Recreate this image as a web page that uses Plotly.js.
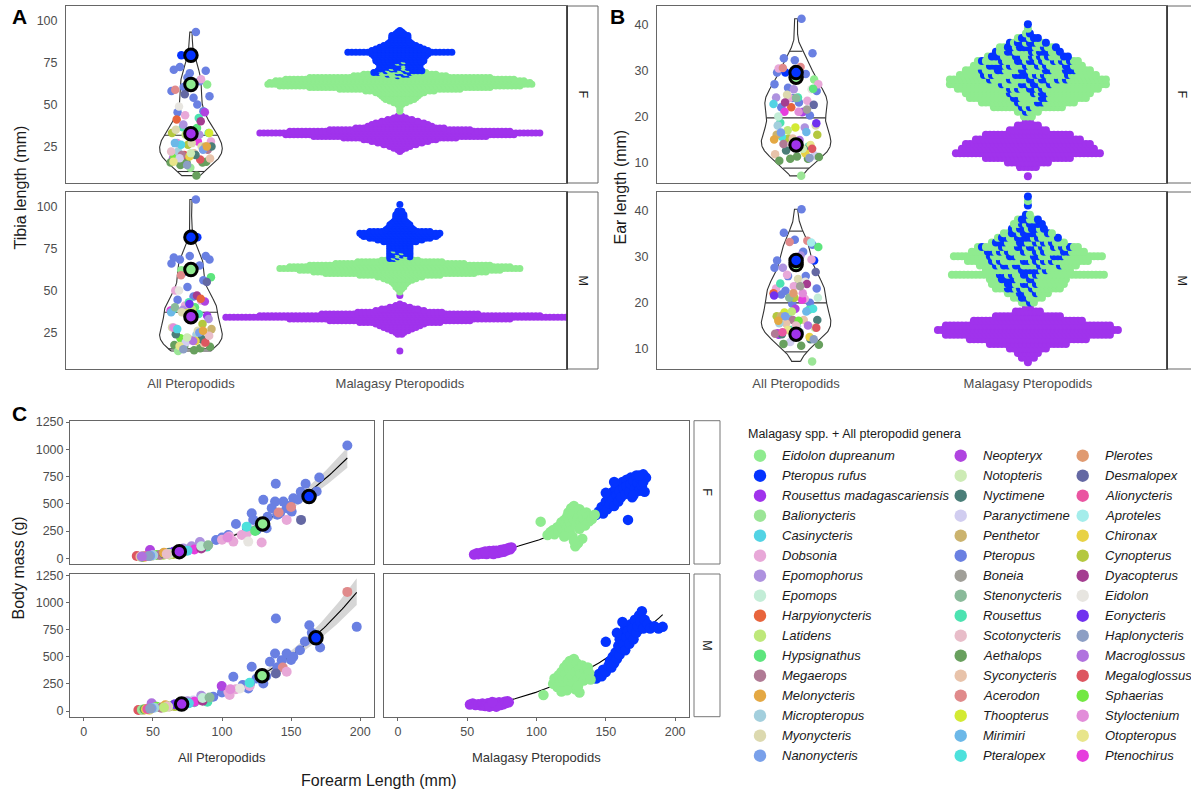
<!DOCTYPE html>
<html><head><meta charset="utf-8">
<script src="https://cdn.plot.ly/plotly-3.0.1.min.js"></script>
<style>html,body{margin:0;padding:0;background:#fff}#plot{width:1191px;height:792px}</style>
</head><body><div id="plot"></div>
<script>
// ================= DATA =================
const genera = ["Eidolon dupreanum","Pteropus rufus","Rousettus madagascariensis","Balionycteris","Casinycteris","Dobsonia","Epomophorus","Epomops","Harpyionycteris","Latidens","Hypsignathus","Megaerops","Melonycteris","Micropteropus","Myonycteris","Nanonycteris",
"Neopteryx","Notopteris","Nyctimene","Paranyctimene","Penthetor","Pteropus","Boneia","Stenonycteris","Rousettus","Scotonycteris","Aethalops","Syconycteris","Acerodon","Thoopterus","Mirimiri","Pteralopex",
"Plerotes","Desmalopex","Alionycteris","Aproteles","Chironax","Cynopterus","Dyacopterus","Eidolon","Eonycteris","Haplonycteris","Macroglossus","Megaloglossus","Sphaerias","Styloctenium","Otopteropus","Ptenochirus"];
const generaColors = ["#8FEB8F","#0433FF","#A033EC","#9BE596","#52D3E4","#E8A8D8","#AE92DF","#C3EDD7","#E8643C","#BEE87A","#5DE57D","#B07A95","#E4A843","#A3CFDD","#DCD9AF","#79A0EA",
"#B044E0","#CDEBB5","#4A7E78","#D1CDF0","#CBB36E","#6A80E2","#A09F98","#8ABA9A","#4CE3B1","#E8BDC9","#68A05E","#E8C3AA","#E08A8B","#D3EA33","#6CB8E8","#4DE1DC",
"#E09A70","#6468A3","#EA55A1","#A4EDEB","#E8D245","#B4C83F","#A43D90","#E7E5E0","#7031EF","#8C9EC4","#B072DE","#DD5660","#72E842","#E28DD9","#E8E58A","#E63DDD"];
const categories = ["All Pteropodids","Malagasy Pteropodids"];

// --- A: tibia, all pteropodids (genus index, value) ---
const tibiaF_genus = [21,21,21,21,21,21,21,21,21,21,21,21,21,21, 1,0,2,28, 5,5,5,5, 39,16, 42,42, 24,24,24, 7,8, 26,26,26,26,26,26, 3,44, 43,43, 27,27, 13, 37,37,37, 47, 11,11, 14,14,14, 9, 18,18, 19,20,36,46, 6,6, 29,40,45,15,41,25,10,4,12,17,30,38,33];
const tibiaF_value = [93,72.3,70,68.6,70.6,63.8,60.3,54.8,54,45.4,46,66,58,50, 79.2,61.9,32,58.7, 64.9,43.5,28,35, 48.8,45.4, 33,18, 42,36.5,33, 34,41, 15.5,15.5,15.5,7.7,14,16, 12.4,19, 17.3,20, 17.9,21, 22, 24,26,33, 28, 20,23, 27,35,25, 32, 25,20, 18,25,19,16, 32,38, 33,34,27,23,14,22,36,26,25,21,27,40,56];
const tibiaM_genus = [21,21,21,21,21,21,21,21,21,21,21,21,21, 1,0,2, 5,5,5,5, 10,10, 39,16, 24,24,24, 6,6, 37,37,37, 29,47,13,44, 11,11, 26,26,26,26,26, 3, 27,27, 14,14,14,14, 9, 18,18, 19,20,36,46,43,40,45,15,41,25,42,4,12,17,30,38,28,33,7,23,8];
const tibiaM_value = [104,68.4,70.4,70.4,69.5,64.8,60.8,68.4,46.4,44.4,56,52,66, 81.6,62,35, 64,50,44,41, 57.9,40, 50,43.4, 43,38.5,36, 38.5,33, 37,27,30, 36.5,38,23.6,21.6, 22.5,20.6, 17.6,15.6,17,16.5,14.5, 14, 18.6,21.6, 28,26,37,24, 39, 24,21, 19,27,20,17,19,42,28,25,15,23,20,27,26,22,37,47,59,55,35,40,45];
// --- A: tibia, Malagasy beeswarm (value rows, counts) ---
const rufusTibiaF_val = [67,68,69,70,71,72,73,74,75,76,77,78,79,80,81,82,83,84,85,86,87,88,89,90,91,92,93,94];
const rufusTibiaF_cnt = [1,3,5,7,8,9,10,10,11,12,13,13,14,15,27,15,13,11,9,7,6,5,5,5,5,3,2,1];
const dupTibiaF_val = [46,47,48,49,50,51,52,53,54,55,56,57,58,59,60,61,62,63,64,65,66,67,68,69,70,71,72,73,74,75,76];
const dupTibiaF_cnt = [1,1,1,1,2,4,6,8,9,10,11,13,18,31,46,61,67,66,63,58,46,23,16,9,5,3,2,1,1,1,1];
const madTibiaF_val = [22,23,24,25,26,27,28,29,30,31,32,33,34,35,36,37,38,39,40,41,42,43,44];
const madTibiaF_cnt = [1,2,4,6,9,12,15,19,29,44,58,71,56,36,23,17,15,13,10,7,4,2,1];
const rufusTibiaM_val = [69,70,71,72,73,74,75,76,77,78,79,80,81,82,83,84,85,86,87,88,89,90,91,92,93,94,95,96,97,101];
const rufusTibiaM_cnt = [2,3,4,5,5,5,6,6,6,6,9,12,16,19,20,21,16,8,7,6,6,5,4,3,3,3,3,2,2,1];
const dupTibiaM_val = [49,50,51,52,53,54,55,56,57,58,59,60,61,62,63,64,65,66,67,68,69,70,71,72,73,74];
const dupTibiaM_cnt = [1,1,2,3,3,4,5,7,9,12,21,38,44,51,61,56,46,33,22,10,4,3,2,1,1,1];
const madTibiaM_val = [14,24,25,26,27,28,29,30,31,32,33,34,35,36,37,38,39,40,41,42,47];
const madTibiaM_cnt = [1,2,3,5,7,9,11,13,21,36,56,88,71,40,22,13,10,6,3,1,1];

// --- B: ear, all pteropodids ---
const earF_genus = [21,21,21,21,21,21,21,21,21,21,21,21,21,21, 1,0,2, 5,5,5,5, 28,28, 39, 6,6,6, 14,14, 24,24,24, 8,4,16,47,10,29,13,30, 37,37, 42,31,46, 27,27, 18,18, 19, 26,26,26,26,26, 3,11,43,44,20,36,9,40,45,15,41,25,12,17,38,33,23,7,22];
const earF_value = [41.2,32.6,33.7,32.2,29.5,29.2,26.2,25.5,23,22,20.2,24,27,21, 29.5,28,13.5, 30.4,23.4,24,27, 30.7,30.5, 25.9, 25.9,24.1,17.6, 24.7,18, 24.1,18.6,13.5, 22,22.7,20.9,21,26,17.6,18,16.6, 15.2,16, 14.9,15.6,13.8, 15.2,11.8, 12.9,12.6, 11.5, 11.3,10.4,10.8,10.8,11.2, 7.1,14,13,14.5,16,12,17,18.5,21,16.5,11,14,15,13,23,22.5,24,20,21.5];
const earM_genus = [21,21,21,21,21,21,21,21,21,21,21,21,21,21,21, 1,0,2, 28,28, 10, 6,6, 5,5,5,5,5, 33,14, 24,24,24, 8,47,29,31, 16,16, 30,30, 18,18,18,18, 11,11, 27,27, 17, 13,13, 42,19, 26,26,26, 3, 37,37, 39,46,43,44,20,36,9,40,45,15,41,25,12,38,23,7,22,34,35,32];
const earM_value = [40.2,35.1,32.5,33.6,29.1,25.7,25.7,23.0,24.1,21.7,19.9,19.7,27.5,31,22.5, 29.1,28,13, 33.4,33.1, 32.0, 30.2,27.5, 29.3,23.5,23.0,20.8,26, 26.6,25.1, 24.1,18.4,14.0, 22.0,20.6,17.8,18.6, 18.6,13.3, 18.0,16.7, 16.2,13.5,13.1,12, 16.2,13.2, 16.2,15.4, 14.5, 14.8,15.5, 15,11.4, 10.8,10.6,11, 7.2, 21,17, 24.5,14,14.5,16,17,12.5,18,21.5,22,17,12,15,16,24,21,21,23.5,13.5,33,22];
// --- B: ear, Malagasy beeswarm ---
const rufusEarF_val = [21,22,23,24,25,26,27,28,29,30,31,32,33,34,35,36,37,38,40];
const rufusEarF_cnt = [1,2,3,4,4,5,6,8,9,10,10,10,10,8,8,6,4,1,1];
const dupEarF_val = [20,21,22,23,24,25,26,27,28,29,30,31,32,33,34,35,36,37,38,39];
const dupEarF_cnt = [3,5,16,21,26,28,31,34,32,26,22,18,16,11,9,7,4,2,1,1];
const madEarF_val = [7,9,10,11,12,13,14,15,16,17,18,19];
const madEarF_cnt = [1,5,11,22,37,34,32,27,22,10,6,2];
const rufusEarM_val = [20,21,22,23,24,25,26,27,28,29,30,31,32,33,34,35,36,37,38,39,41,43];
const rufusEarM_cnt = [1,2,3,4,5,6,6,6,7,7,8,9,10,8,8,7,6,5,3,1,1,1];
const dupEarM_val = [20,21,22,23,24,25,26,27,28,29,30,31,32,33,34,35,36,37,38,39,42];
const dupEarM_cnt = [3,6,8,13,14,14,33,16,18,24,30,20,16,11,8,6,3,3,3,1,1];
const madEarM_val = [7,8,9,10,11,12,13,14,15,16,17,18,19];
const madEarM_cnt = [1,4,6,10,20,30,42,46,42,28,17,7,2];

// --- Highlighted Malagasy species means, order: E. dupreanum, R. madagascariensis, P. rufus ---
const meanSpecies = [0, 2, 1];
const meanTibiaF = [61.9, 32.6, 79.2];
const meanTibiaM = [62.4, 34.4, 81.6];
const meanEarF = [28.5, 13.8, 29.5];
const meanEarM = [28.2, 13.1, 29.1];
const meanForearmF = [129.4, 69.1, 163];
const meanMassF = [315, 61, 566];
const meanForearmM = [129, 70.8, 168];
const meanMassM = [325, 64, 674];

// --- C: body mass vs forearm, all pteropodids ---
const massF_genus = [21,21,21,21,21,21,21,21,21,21,21,21,21,21,21,21,21,21,21,21,21,21,21,21,21,21,21,21,21, 1,0,2, 28,28, 33, 5,5,5,5,5,5,5, 31,39, 24,24,24, 8, 6,6,6, 10,16,43, 27,27, 46,44,9, 14,14, 37,37,37, 47,11,3,26,20,36, 18,18, 19,29,38,40,13,15,7,12,17,25,4,23,34,41,42,45,30];
const massF_forearm = [190.7,170.4,160.5,168.5,138.9,129.9,138.4,144.4,151.6,136,146.8,150.4,142,121.5,122.6,110.1,132.3,125.1,104.6,95.7,155,148,133,128,118,140,157,165,100, 163,129,69, 141,150, 157.2, 146.8,114.3,105.3,108.2,128.7,118,100, 117.9,119, 88.9,80,75, 84.1, 84,78,72, 124,47.9,38.3, 43.1,41, 49.1,52.8,57.5, 61.1,58, 65,70,62, 80,55,42,43,60,44, 58,62, 50,72,85,65,50,48,85,58,62,60,75,90,45,47,42,104,70];
const massF_mass = [1035,741,683,612,683,536,520,520,551,460,460,428,413,413,352,315,276,260,214,168,540,480,380,300,270,400,610,590,190, 560,310,60, 420,470, 352, 352,214,199,153,144,230,170, 290,153, 107,90,80, 122, 150,110,90, 250,76,21, 21,15, 21,30,30, 46,40, 40,55,35, 80,30,12,15,40,15, 45,50, 25,60,90,60,28,24,110,50,40,40,70,120,18,20,16,190,62];
const massM_genus = [21,21,21,21,21,21,21,21,21,21,21,21,21,21,21,21,21,21,21,21,21,21,21,21, 1,0,2, 28,28, 5,5,5,5,5, 33,39,16,42, 24,24,24, 8,19, 18,18, 44,43,27,46, 14,14, 10, 6,6, 37,37, 47,11,3,26,20,36,29,38,40,13,15,7,12,17,25,4,23,34,41,45,31,30,9];
const massM_forearm = [197.5,139,163.2,171,151.6,146.8,156.4,138.4,143.2,134.7,121.5,108.2,129.9,120.3,119,93.7,140,150,160,165,132,125,115,100, 168,129,71, 190.7,144, 146.8,104.6,105.5,110,120, 139,113,99.8,49.1, 89.4,80,76, 85.3,79.2, 64.8,60, 52.7,39.5,43,47.4, 60,56, 128, 85,75, 66,70, 80,56,42,44,62,45,73,86,66,51,49,86,59,61,60,76,91,46,48,106,120,72,58];
const massM_mass = [775,852,790,585,499,530,560,530,468,453,407,315,254,254,208,131,400,470,640,720,320,300,240,170, 670,325,64, 1097,400, 361,178,147,200,230, 345,208,230,71, 86,80,75, 117,96, 52,45, 40,10,10,10, 40,35, 330, 140,90, 45,58, 85,30,12,16,42,16,65,95,62,30,26,120,52,42,42,72,125,18,22,200,260,65,32];

// --- C: body mass vs forearm, Malagasy individuals ---
const rufusF_forearm = [143,145,147,148,150,151,152,153,154,155,156,157,158,159,160,160,161,162,163,164,165,165,166,167,168,168,169,170,171,172,173,174,175,176,177,178,156,150,170,179,177,174];
const rufusF_mass = [398,430,470,410,520,450,560,500,600,540,480,640,580,520,680,620,560,700,640,590,720,660,352,610,740,680,560,710,640,760,690,620,730,660,700,610,700,600,580,740,770,760];
const dupF_forearm = [103,108,110,112,113,115,116,117,118,119,120,121,122,122,123,124,125,125,126,127,127,128,129,130,130,128,131,132,133,134,135,136,137,138,140,142,124,120,131,126,133,127];
const dupF_mass = [336,214,240,260,220,285,250,300,330,270,350,310,380,290,420,340,460,300,390,350,480,420,310,370,140,110,450,330,400,360,300,420,380,340,360,400,250,200,270,200,180,160];
const madF_forearm = [55,57,58,60,61,62,63,64,65,66,67,67,68,69,70,70,71,72,73,74,74,75,76,77,78,79,80,81,82,66,72,63,69,76];
const madF_mass = [35,45,38,50,42,55,48,40,58,50,62,45,55,68,52,62,70,58,66,75,55,68,80,64,86,75,95,82,100,66,48,62,40,60];
const rufusM_forearm = [143,145,147,148,150,150,152,153,154,155,156,157,158,159,160,160,161,162,163,164,164,165,166,167,168,168,169,170,171,172,173,174,175,176,177,178,180,182,185,188,191,158,162];
const rufusM_mass = [300,340,320,380,360,637,420,460,400,500,440,540,480,600,520,660,580,700,620,560,760,680,740,620,800,700,760,660,840,720,780,880,820,919,760,840,800,760,780,760,775,720,820];
const dupM_forearm = [105,112,113,115,116,117,118,119,120,120,121,122,123,124,124,125,126,126,127,128,128,129,130,131,131,132,133,134,135,136,137,138,139,122,118,130];
const dupM_mass = [147,250,300,220,330,270,360,300,400,240,340,430,290,380,460,330,410,250,480,360,200,440,300,390,170,340,420,280,370,320,400,350,290,190,180,230];
const madM_forearm = [52,54,56,58,60,61,62,63,64,65,66,67,68,69,70,71,72,73,74,75,76,77,78,79,80,66,71,68];
const madM_mass = [60,70,55,62,50,68,58,45,64,72,52,60,68,48,75,58,66,80,55,70,62,85,74,90,80,40,40,82];

// ================= LAYOUT GEOMETRY (px) =================
const W = 1191, H = 792;
const FONT = 'Liberation Sans, Arial, Helvetica, sans-serif';
const A_X = [66, 567], B_X = [657, 1167];
const ROW_F = [6, 183], ROW_M = [192, 369];
const CL_X = [70, 374], CR_X = [384, 689];
const C_F = [420.7, 564], C_M = [574, 716.7];
const A_XRANGE = [0.402, 2.8], B_XRANGE = [0.4, 2.6];
const A_YRANGE = [3.3, 108.5], B_YRANGE = [5.55, 43.95];
const C_XRANGE = [-10, 210], C_YRANGE = [-52.5, 1262];

const unitsPerPx = (range, dpx) => (range[1] - range[0]) / (dpx[1] - dpx[0]);
const frac = t => t - Math.floor(t);
const jit = i => (frac((i + 1) * 0.6180339887498949) * 0.2 - 0.1);
const slotHash = (p, v) => frac(Math.sin((p + 1) * 12.9898 + v * 78.233) * 43758.5453);

// ================= HELPERS =================
function violin(vals, center, width) {
  const v = vals.slice().sort((a, b) => a - b), n = v.length;
  const mean = v.reduce((s, a) => s + a, 0) / n;
  const sd = Math.sqrt(v.reduce((s, a) => s + (a - mean) * (a - mean), 0) / (n - 1));
  const q = p => { const h = (n - 1) * p, lo = Math.floor(h), hi = Math.ceil(h); return v[lo] + (h - lo) * (v[hi] - v[lo]); };
  const bw = 0.9 * Math.min(sd, (q(0.75) - q(0.25)) / 1.34) * Math.pow(n, -0.2);
  const m = 300, ys = [], ds = [];
  for (let i = 0; i < m; i++) {
    const y = v[0] + (v[n - 1] - v[0]) * i / (m - 1);
    let d = 0; for (const a of v) { const z = (y - a) / bw; d += Math.exp(-0.5 * z * z); }
    ys.push(y); ds.push(d);
  }
  const dmax = Math.max(...ds);
  const hw = ds.map(d => d / dmax * width / 2);
  const px = [], py = [];
  for (let i = 0; i < m; i++) { px.push(center + hw[i]); py.push(ys[i]); }
  for (let i = m - 1; i >= 0; i--) { px.push(center - hw[i]); py.push(ys[i]); }
  px.push(px[0]); py.push(py[0]);
  const cum = []; let s = 0; for (const d of ds) { s += d; cum.push(s); }
  for (let i = 0; i < m; i++) cum[i] /= s;
  const qx = [], qy = [];
  for (const p of [0.025, 0.5, 0.975]) {
    let i = 0; while (i < m - 1 && cum[i] < p) i++;
    const i0 = Math.max(0, i - 1);
    const t = cum[i] === cum[i0] ? 0 : (p - cum[i0]) / (cum[i] - cum[i0]);
    const y = ys[i0] + t * (ys[i] - ys[i0]), h = hw[i0] + t * (hw[i] - hw[i0]);
    qx.push(center - h, center + h, null); qy.push(y, y, null);
  }
  return { px, py, qx, qy };
}

// beeswarm layout: rows of equal values, centred, species mixed in the central zone
function swarm(species, center, spacing) {
  const rows = new Map();
  species.forEach((sp, si) => sp.vals.forEach((v, k) => {
    if (!rows.has(v)) rows.set(v, new Array(species.length).fill(0));
    rows.get(v)[si] += sp.cnts[k];
  }));
  const keys = [...rows.keys()].sort((a, b) => a - b);
  const X = [], Y = [], C = [];
  for (const v of keys) {
    const cnt = rows.get(v), n = cnt.reduce((a, b) => a + b, 0), mid = (n - 1) / 2;
    const order = [...Array(n).keys()].sort((a, b) => (Math.abs(a - mid) - Math.abs(b - mid)) || (a - b));
    const slot = new Array(n).fill(-1);
    let free = order.slice();
    const sIdx = cnt.map((c, i) => i).filter(i => cnt[i] > 0).sort((a, b) => cnt[a] - cnt[b]);
    sIdx.forEach((si, k) => {
      const c = cnt[si];
      if (k === sIdx.length - 1) { free.forEach(p => slot[p] = si); free = []; return; }
      const zone = free.slice(0, Math.min(free.length, Math.ceil(2.5 * c)));
      const ranked = zone.map(p => [p, slotHash(p, v)]).sort((a, b) => a[1] - b[1]);
      const chosen = new Set(ranked.slice(0, c).map(r => r[0]));
      chosen.forEach(p => slot[p] = si);
      free = free.filter(p => !chosen.has(p));
    });
    for (let j = 0; j < n; j++) { X.push(center + (j - mid) * spacing); Y.push(v); C.push(species[slot[j]].color); }
  }
  return { X, Y, C };
}

function logFit(xs, ys) {
  const n = xs.length, lx = xs.map(Math.log), ly = ys.map(Math.log);
  const mx = lx.reduce((a, b) => a + b, 0) / n, my = ly.reduce((a, b) => a + b, 0) / n;
  let sxx = 0, sxy = 0;
  for (let i = 0; i < n; i++) { sxx += (lx[i] - mx) ** 2; sxy += (lx[i] - mx) * (ly[i] - my); }
  const b = sxy / sxx, a = my - b * mx;
  let rss = 0; for (let i = 0; i < n; i++) rss += (ly[i] - a - b * lx[i]) ** 2;
  const s = Math.sqrt(rss / (n - 2));
  const x0 = Math.min(...xs), x1 = Math.max(...xs);
  const X = [], Yh = [], Lo = [], Hi = [];
  for (let i = 0; i <= 120; i++) {
    const x = x0 + (x1 - x0) * i / 120, l = Math.log(x);
    const yh = a + b * l, se = s * Math.sqrt(1 / n + (l - mx) ** 2 / sxx);
    X.push(x); Yh.push(Math.exp(yh)); Lo.push(Math.exp(yh - 1.98 * se)); Hi.push(Math.exp(yh + 1.98 * se));
  }
  return { X, Yh, Lo, Hi };
}

const traces = [];
const col = g => generaColors[g];

function addViolinPanel(xa, ya, genus, values, means, xr, xpx, swarmSpecies, ptSize, swarmSize) {
  const vio = violin(values, 1, 0.3);
  traces.push({ type: 'scatter', mode: 'lines', x: vio.px, y: vio.py, xaxis: xa, yaxis: ya, line: { color: '#333', width: 1.1 }, hoverinfo: 'skip' });
  traces.push({ type: 'scatter', mode: 'lines', x: vio.qx, y: vio.qy, xaxis: xa, yaxis: ya, line: { color: '#333', width: 1.1 }, hoverinfo: 'skip' });
  traces.push({ type: 'scatter', mode: 'markers', x: values.map((v, i) => 1 + jit(i)), y: values, xaxis: xa, yaxis: ya,
    marker: { size: ptSize, color: genus.map(col), line: { width: 0 } }, hoverinfo: 'skip' });
  const sw = swarm(swarmSpecies, 2, 4 * unitsPerPx(xr, xpx));
  traces.push({ type: 'scatter', mode: 'markers', x: sw.X, y: sw.Y, xaxis: xa, yaxis: ya,
    marker: { size: swarmSize, color: sw.C, line: { width: 0 } }, hoverinfo: 'skip' });
  traces.push({ type: 'scatter', mode: 'markers', x: means.map(() => 1), y: means, xaxis: xa, yaxis: ya,
    marker: { size: 12.5, color: meanSpecies.map(col), line: { color: '#000', width: 3 } }, hoverinfo: 'skip' });
}

addViolinPanel('x', 'y', tibiaF_genus, tibiaF_value, meanTibiaF, A_XRANGE, A_X,
  [{ vals: dupTibiaF_val, cnts: dupTibiaF_cnt, color: col(0) }, { vals: rufusTibiaF_val, cnts: rufusTibiaF_cnt, color: col(1) }, { vals: madTibiaF_val, cnts: madTibiaF_cnt, color: col(2) }], 8.5, 7);
addViolinPanel('x2', 'y2', tibiaM_genus, tibiaM_value, meanTibiaM, A_XRANGE, A_X,
  [{ vals: dupTibiaM_val, cnts: dupTibiaM_cnt, color: col(0) }, { vals: rufusTibiaM_val, cnts: rufusTibiaM_cnt, color: col(1) }, { vals: madTibiaM_val, cnts: madTibiaM_cnt, color: col(2) }], 8.5, 7);
addViolinPanel('x3', 'y3', earF_genus, earF_value, meanEarF, B_XRANGE, B_X,
  [{ vals: dupEarF_val, cnts: dupEarF_cnt, color: col(0) }, { vals: rufusEarF_val, cnts: rufusEarF_cnt, color: col(1) }, { vals: madEarF_val, cnts: madEarF_cnt, color: col(2) }], 8.5, 8);
addViolinPanel('x4', 'y4', earM_genus, earM_value, meanEarM, B_XRANGE, B_X,
  [{ vals: dupEarM_val, cnts: dupEarM_cnt, color: col(0) }, { vals: rufusEarM_val, cnts: rufusEarM_cnt, color: col(1) }, { vals: madEarM_val, cnts: madEarM_cnt, color: col(2) }], 8.5, 8);

function addAllMass(xa, ya, genus, fa, mass, mFa, mMass) {
  const f = logFit(fa, mass);
  traces.push({ type: 'scatter', mode: 'lines', x: f.X.concat(f.X.slice().reverse()), y: f.Hi.concat(f.Lo.slice().reverse()), xaxis: xa, yaxis: ya,
    fill: 'toself', fillcolor: 'rgba(153,153,153,0.4)', line: { width: 0 }, hoverinfo: 'skip' });
  traces.push({ type: 'scatter', mode: 'lines', x: f.X, y: f.Yh, xaxis: xa, yaxis: ya, line: { color: '#000', width: 1.1 }, hoverinfo: 'skip' });
  traces.push({ type: 'scatter', mode: 'markers', x: fa, y: mass, xaxis: xa, yaxis: ya, marker: { size: 10, color: genus.map(col), line: { width: 0 } }, hoverinfo: 'skip' });
  traces.push({ type: 'scatter', mode: 'markers', x: mFa, y: mMass, xaxis: xa, yaxis: ya, marker: { size: 12.5, color: meanSpecies.map(col), line: { color: '#000', width: 3 } }, hoverinfo: 'skip' });
}
addAllMass('x5', 'y5', massF_genus, massF_forearm, massF_mass, meanForearmF, meanMassF);
addAllMass('x6', 'y6', massM_genus, massM_forearm, massM_mass, meanForearmM, meanMassM);

function addMalagasyMass(xa, ya, groups) {
  const allX = [].concat(...groups.map(g => g.x)), allY = [].concat(...groups.map(g => g.y));
  const f = logFit(allX, allY);
  traces.push({ type: 'scatter', mode: 'lines', x: f.X, y: f.Yh, xaxis: xa, yaxis: ya, line: { color: '#000', width: 1.1 }, hoverinfo: 'skip' });
  groups.forEach(g => traces.push({ type: 'scatter', mode: 'markers', x: g.x, y: g.y, xaxis: xa, yaxis: ya, marker: { size: 10.5, color: g.color, line: { width: 0 } }, hoverinfo: 'skip' }));
}
addMalagasyMass('x7', 'y7', [{ x: rufusF_forearm, y: rufusF_mass, color: col(1) }, { x: dupF_forearm, y: dupF_mass, color: col(0) }, { x: madF_forearm, y: madF_mass, color: col(2) }]);
addMalagasyMass('x8', 'y8', [{ x: rufusM_forearm, y: rufusM_mass, color: col(1) }, { x: dupM_forearm, y: dupM_mass, color: col(0) }, { x: madM_forearm, y: madM_mass, color: col(2) }]);

// legend (markers on a hidden pixel-scaled axis)
const LEG_MARK_X = [760, 960.7, 1082.7], LEG_TEXT_X = [780, 980.7, 1102.7], LEG_Y0 = 455.7, LEG_DY = 20;
traces.push({ type: 'scatter', mode: 'markers', xaxis: 'x9', yaxis: 'y9',
  x: genera.map((g, i) => LEG_MARK_X[Math.floor(i / 16)]), y: genera.map((g, i) => LEG_Y0 + LEG_DY * (i % 16)),
  marker: { size: 12.5, color: generaColors, line: { width: 0 } }, hoverinfo: 'skip' });

// ================= AXES =================
const tickFont = { family: FONT, size: 12.5, color: '#4d4d4d' };
function xAx(px, range, anchor, o) {
  return Object.assign({ domain: [px[0] / W, px[1] / W], range, anchor, showgrid: false, zeroline: false, showline: true, mirror: true,
    linecolor: '#666', linewidth: 1, ticks: '', showticklabels: false, fixedrange: true, tickfont: tickFont }, o || {});
}
function yAx(py, range, anchor, o) {
  return Object.assign({ domain: [1 - py[1] / H, 1 - py[0] / H], range, anchor, showgrid: false, zeroline: false, showline: true, mirror: true,
    linecolor: '#666', linewidth: 1, ticks: '', showticklabels: false, fixedrange: true, tickfont: tickFont }, o || {});
}
const yTickA = { tickvals: [25, 50, 75, 100], showticklabels: true, ticks: 'outside', ticklen: 5, tickcolor: 'rgba(0,0,0,0)' };
const yTickB = { tickvals: [10, 20, 30, 40], showticklabels: true, ticks: 'outside', ticklen: 5, tickcolor: 'rgba(0,0,0,0)' };
const xCat = { tickvals: [1, 2], ticktext: categories, showticklabels: true, ticks: 'outside', ticklen: 2, tickcolor: 'rgba(0,0,0,0)',
  tickfont: { family: FONT, size: 13, color: '#4d4d4d' } };
const yTickC = { tickvals: [0, 250, 500, 750, 1000, 1250], showticklabels: true, ticks: 'outside', ticklen: 3, tickcolor: '#666', tickwidth: 1 };
const xTickC = { tickvals: [0, 50, 100, 150, 200], showticklabels: true, ticks: 'outside', ticklen: 3, tickcolor: '#666', tickwidth: 1 };

const layout = {
  width: W, height: H, margin: { l: 0, r: 0, t: 0, b: 0, pad: 0 },
  paper_bgcolor: '#fff', plot_bgcolor: 'rgba(0,0,0,0)', showlegend: false,
  font: { family: FONT, size: 12, color: '#4d4d4d' },
  xaxis: xAx(A_X, A_XRANGE, 'y'), yaxis: yAx(ROW_F, A_YRANGE, 'x', yTickA),
  xaxis2: xAx(A_X, A_XRANGE, 'y2', xCat), yaxis2: yAx(ROW_M, A_YRANGE, 'x2', yTickA),
  xaxis3: xAx(B_X, B_XRANGE, 'y3'), yaxis3: yAx(ROW_F, B_YRANGE, 'x3', yTickB),
  xaxis4: xAx(B_X, B_XRANGE, 'y4', xCat), yaxis4: yAx(ROW_M, B_YRANGE, 'x4', yTickB),
  xaxis5: xAx(CL_X, C_XRANGE, 'y5'), yaxis5: yAx(C_F, C_YRANGE, 'x5', yTickC),
  xaxis6: xAx(CL_X, C_XRANGE, 'y6', xTickC), yaxis6: yAx(C_M, C_YRANGE, 'x6', yTickC),
  xaxis7: xAx(CR_X, C_XRANGE, 'y7'), yaxis7: yAx(C_F, C_YRANGE, 'x7'),
  xaxis8: xAx(CR_X, C_XRANGE, 'y8', xTickC), yaxis8: yAx(C_M, C_YRANGE, 'x8'),
  xaxis9: { domain: [735 / W, 1], range: [735, W], anchor: 'y9', visible: false, fixedrange: true },
  yaxis9: { domain: [1 - 775 / H, 1 - 440 / H], range: [775, 440], anchor: 'x9', visible: false, fixedrange: true },
  shapes: [], annotations: []
};

// strips
const rect = (x0, y0, x1, y1, color, w) => ({ type: 'rect', xref: 'paper', yref: 'paper', x0: x0 / W, x1: x1 / W, y0: 1 - y1 / H, y1: 1 - y0 / H, line: { color, width: w }, fillcolor: 'rgba(0,0,0,0)', layer: 'above' });
const vline = (x, y0, y1, color, w) => ({ type: 'line', xref: 'paper', yref: 'paper', x0: x / W, x1: x / W, y0: 1 - y1 / H, y1: 1 - y0 / H, line: { color, width: w }, layer: 'above' });
[[A_X[1], A_X[1] + 31], [B_X[1], B_X[1] + 31]].forEach(([a, b]) => {
  [ROW_F, ROW_M].forEach(r => { layout.shapes.push(rect(a, r[0], b, r[1], '#666', 1)); layout.shapes.push(vline(a, r[0], r[1], '#333', 1.6)); });
});
[C_F, C_M].forEach(r => layout.shapes.push(rect(694, r[0], 720, r[1], '#777', 1)));

// text
const ann = (text, px, py, o) => Object.assign({ text, x: px / W, y: 1 - py / H, xref: 'paper', yref: 'paper', showarrow: false,
  xanchor: 'center', yanchor: 'middle', font: { family: FONT, size: 13, color: '#1a1a1a' } }, o || {});
const A = layout.annotations;
A.push(ann('<b>A</b>', 19, 16.5, { font: { family: FONT, size: 21, color: '#000' } }));
A.push(ann('<b>B</b>', 617.5, 16.5, { font: { family: FONT, size: 21, color: '#000' } }));
A.push(ann('<b>C</b>', 19, 413.5, { font: { family: FONT, size: 21, color: '#000' } }));
A.push(ann('Tibia length (mm)', 20, 187.5, { textangle: -90, font: { family: FONT, size: 16, color: '#1a1a1a' } }));
A.push(ann('Ear length (mm)', 620, 187.5, { textangle: -90, font: { family: FONT, size: 16, color: '#1a1a1a' } }));
A.push(ann('Body mass (g)', 18, 568.5, { textangle: -90, font: { family: FONT, size: 16, color: '#1a1a1a' } }));
A.push(ann('Forearm Length (mm)', 379, 780, { font: { family: FONT, size: 16, color: '#1a1a1a' } }));
A.push(ann(categories[0], 222, 757, { font: { family: FONT, size: 13, color: '#333' } }));
A.push(ann(categories[1], 536.5, 757, { font: { family: FONT, size: 13, color: '#333' } }));
const stripFont = { family: FONT, size: 12.5, color: '#1a1a1a' };
[[583, 94.5, 'F'], [583, 280.5, 'M'], [1182, 94.5, 'F'], [1182, 280.5, 'M'], [707, 492.3, 'F'], [707, 645.3, 'M']].forEach(([x, y, t]) =>
  A.push(ann(t, x, y, { textangle: 90, font: stripFont })));
A.push(ann('Malagasy spp. + All pteropodid genera', 746, 434, { xanchor: 'left', font: { family: FONT, size: 12.5, color: '#1a1a1a' } }));
genera.forEach((g, i) => A.push(ann('<i>' + g + '</i>', LEG_TEXT_X[Math.floor(i / 16)], LEG_Y0 + LEG_DY * (i % 16),
  { xanchor: 'left', font: { family: FONT, size: 13, color: '#1a1a1a' } })));

Plotly.newPlot('plot', traces, layout, { staticPlot: true, displayModeBar: false });
</script></body></html>
